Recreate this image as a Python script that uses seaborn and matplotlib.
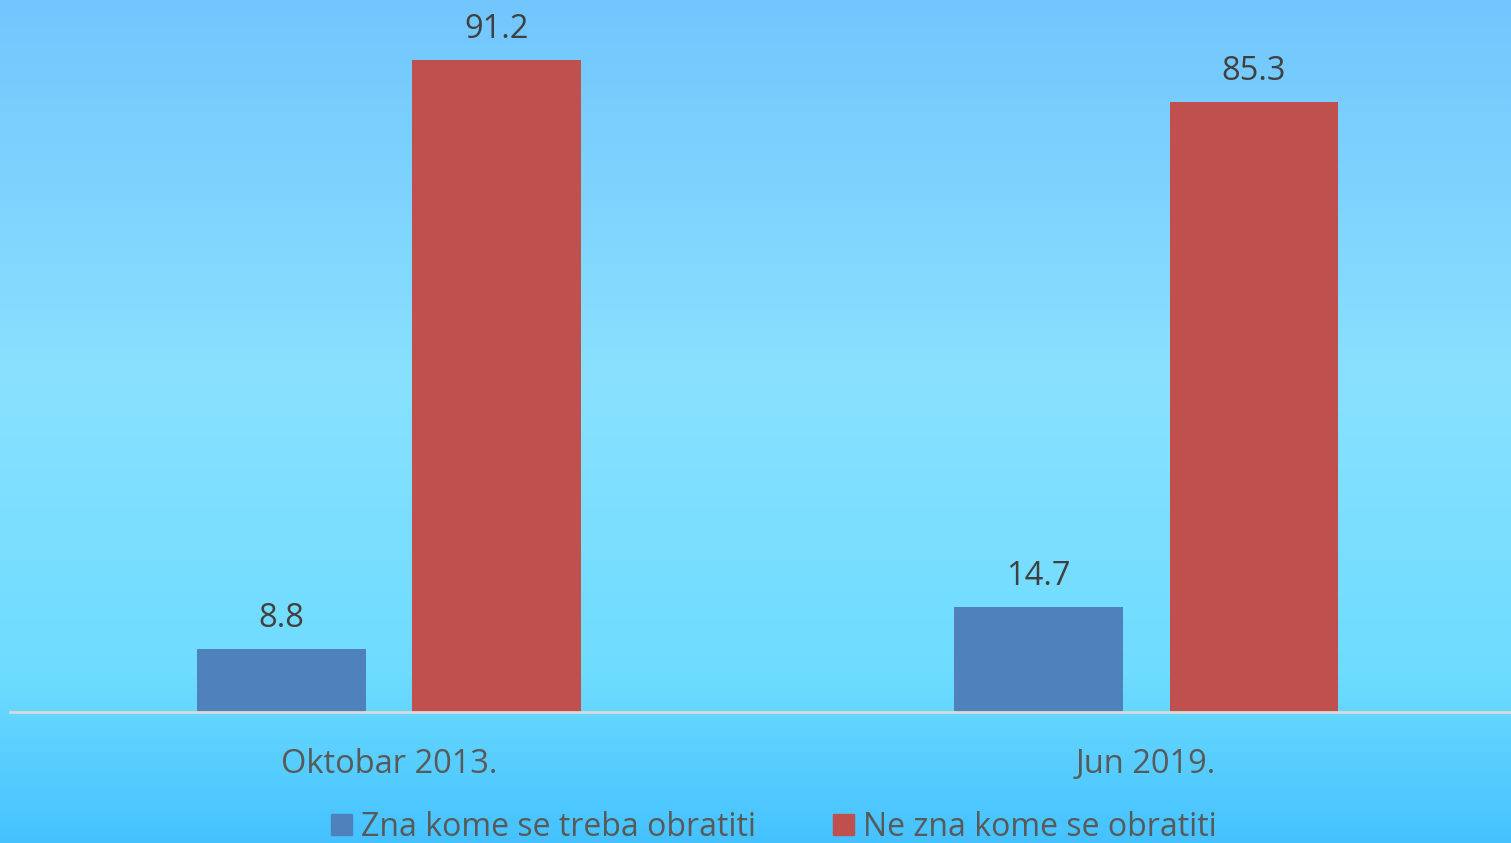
import matplotlib
matplotlib.use("Agg")
import matplotlib.pyplot as plt
from matplotlib.colors import LinearSegmentedColormap
from matplotlib.patches import Patch
import numpy as np
import pandas as pd
import seaborn as sns

categories = ["Oktobar 2013.", "Jun 2019."]
series = ["Zna kome se treba obratiti", "Ne zna kome se obratiti"]
zna = [8.8, 14.7]
ne_zna = [91.2, 85.3]
colors = ["#4F81BD", "#C0504D"]

df = pd.DataFrame({
    "period": categories * 2,
    "odgovor": [series[0]] * 2 + [series[1]] * 2,
    "procenat": zna + ne_zna,
})

sns.set_theme(style="white")
plt.rcParams["font.family"] = ["Open Sans", "DejaVu Sans"]

fig = plt.figure(figsize=(15.11, 8.43), dpi=100)

# gradient background
bg = fig.add_axes([0, 0, 1, 1], zorder=-1)
grad = LinearSegmentedColormap.from_list(
    "bg", [(0.0, "#72C6FD"), (0.45, "#89E1FF"), (0.8, "#6EDCFF"), (1.0, "#45C2FE")])
bg.imshow(np.linspace(0, 1, 256).reshape(-1, 1), aspect="auto", cmap=grad,
          extent=[0, 1, 0, 1], origin="upper")
bg.axis("off")

ax = fig.add_axes([10 / 1511, 1 - 712 / 843, 1 - 10 / 1511, 712 / 843])
ax.patch.set_alpha(0)
sns.barplot(data=df, x="period", y="procenat", hue="odgovor", palette=colors,
            width=0.57, gap=0.217, ax=ax, legend=False, saturation=1, linewidth=0)

ax.set_xlim(-0.5007, 1.482)
ax.set_ylim(0, 99.6)
for c in ax.containers:
    ax.bar_label(c, fmt="%.1f", padding=10, fontsize=23.5, color="#404040")

ax.set_xlabel("")
ax.set_ylabel("")
ax.set_yticks([])
ax.tick_params(axis="x", length=0, pad=26, labelsize=23.5, labelcolor="#595959")
for s in ["top", "right", "left"]:
    ax.spines[s].set_visible(False)
ax.spines["bottom"].set_color("#D9D9D9")
ax.spines["bottom"].set_linewidth(2)

handles = [Patch(color=c, label=s) for c, s in zip(colors, series)]
fig.legend(handles=handles, loc="center", bbox_to_anchor=(774 / 1511, 1 - 827 / 843),
           ncol=2, frameon=False, fontsize=23, labelcolor="#595959",
           handlelength=0.65, handleheight=0.65, handletextpad=0.3, columnspacing=2.4)

fig.savefig("out.png", dpi=100)
